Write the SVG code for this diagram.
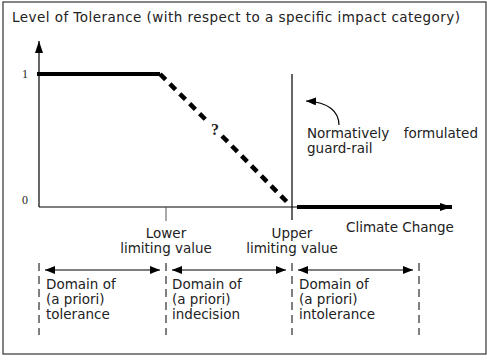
<svg xmlns="http://www.w3.org/2000/svg" width="487" height="360" viewBox="0 0 487 360">
<style>
.t{font-family:"DejaVu Sans","Liberation Sans",sans-serif;font-size:13.5px;fill:#222}
.s{font-family:"Liberation Serif",serif;font-size:12px;fill:#222}
.thin{stroke:#000;stroke-width:1.2;fill:none}
.dv{stroke:#000;stroke-width:1;stroke-dasharray:8 5;fill:none}
.arr{stroke:#000;stroke-width:1.2;fill:none;marker-start:url(#ah);marker-end:url(#ah)}
.dash{stroke:#000;stroke-width:4.5;stroke-dasharray:8 6;fill:none}
</style>
<defs>
<marker id="ah" viewBox="0 0 10 8" refX="10" refY="4" markerWidth="10" markerHeight="8" markerUnits="userSpaceOnUse" orient="auto-start-reverse">
<path d="M0,0 L10,4 L0,8 Z" fill="#000"/>
</marker>
<marker id="big" viewBox="0 0 12 8" refX="12" refY="4" markerWidth="12" markerHeight="8" markerUnits="userSpaceOnUse" orient="auto">
<path d="M0,0 L12,4 L0,8 Z" fill="#000"/>
</marker>
</defs>
<rect x="3" y="2" width="483" height="352" fill="#fff" stroke="#333" stroke-width="1.2"/>
<g id="title"><text class="t" x="12" y="22" textLength="448" lengthAdjust="spacing">Level of Tolerance (with respect to a specific impact category)</text></g>
<g id="axes">
<line class="thin" x1="39" y1="207" x2="39" y2="41" marker-end="url(#big)"/>
<line class="thin" x1="39" y1="207" x2="297" y2="207"/>
<text class="s" x="22" y="78">1</text>
<text class="s" x="22" y="204">0</text>
</g>
<g id="curve">
<line x1="37" y1="74" x2="160" y2="74" stroke="#000" stroke-width="4"/>
<line class="dash" x1="160" y1="74" x2="206" y2="120"/>
<line class="dash" x1="222" y1="136" x2="288" y2="203"/>
<text x="211" y="135" font-family="Liberation Serif,serif" font-weight="bold" font-size="16" fill="#222">?</text>
<line x1="297" y1="207" x2="452" y2="207" stroke="#000" stroke-width="4" marker-end="url(#big)"/>
</g>
<g id="guardrail">
<line class="thin" x1="292" y1="74" x2="292" y2="220"/>
<path class="thin" d="M339,125 C339,112 329,102 306,101" marker-end="url(#ah)"/>
<text class="t" x="307" y="138">Normatively</text>
<text class="t" x="478" y="138" text-anchor="end">formulated</text>
<text class="t" x="307" y="153">guard-rail</text>
</g>
<g id="xlabels">
<line x1="166" y1="207" x2="166" y2="221" stroke="#555" stroke-width="1"/>
<text class="t" x="166" y="238" text-anchor="middle">Lower</text>
<text class="t" x="166" y="253" text-anchor="middle">limiting value</text>
<text class="t" x="292" y="238" text-anchor="middle">Upper</text>
<text class="t" x="292" y="253" text-anchor="middle">limiting value</text>
<text class="t" x="346" y="232">Climate Change</text>
</g>
<g id="connectors">
<line class="dv" x1="39" y1="263" x2="39" y2="335"/>
<line class="dv" x1="166" y1="263" x2="166" y2="335"/>
<line class="dv" x1="292" y1="263" x2="292" y2="335"/>
<line class="dv" x1="419" y1="263" x2="419" y2="335"/>
<line class="arr" x1="45" y1="270" x2="160" y2="270"/>
<line class="arr" x1="172" y1="270" x2="286" y2="270"/>
<line class="arr" x1="298" y1="270" x2="413" y2="270"/>
</g>
<g id="d1"><text class="t" x="46" y="289">Domain of</text><text class="t" x="46" y="304">(a priori)</text><text class="t" x="46" y="319">tolerance</text></g>
<g id="d2"><text class="t" x="172" y="289">Domain of</text><text class="t" x="172" y="304">(a priori)</text><text class="t" x="172" y="319">indecision</text></g>
<g id="d3"><text class="t" x="299" y="289">Domain of</text><text class="t" x="299" y="304">(a priori)</text><text class="t" x="299" y="319">intolerance</text></g>
</svg>
